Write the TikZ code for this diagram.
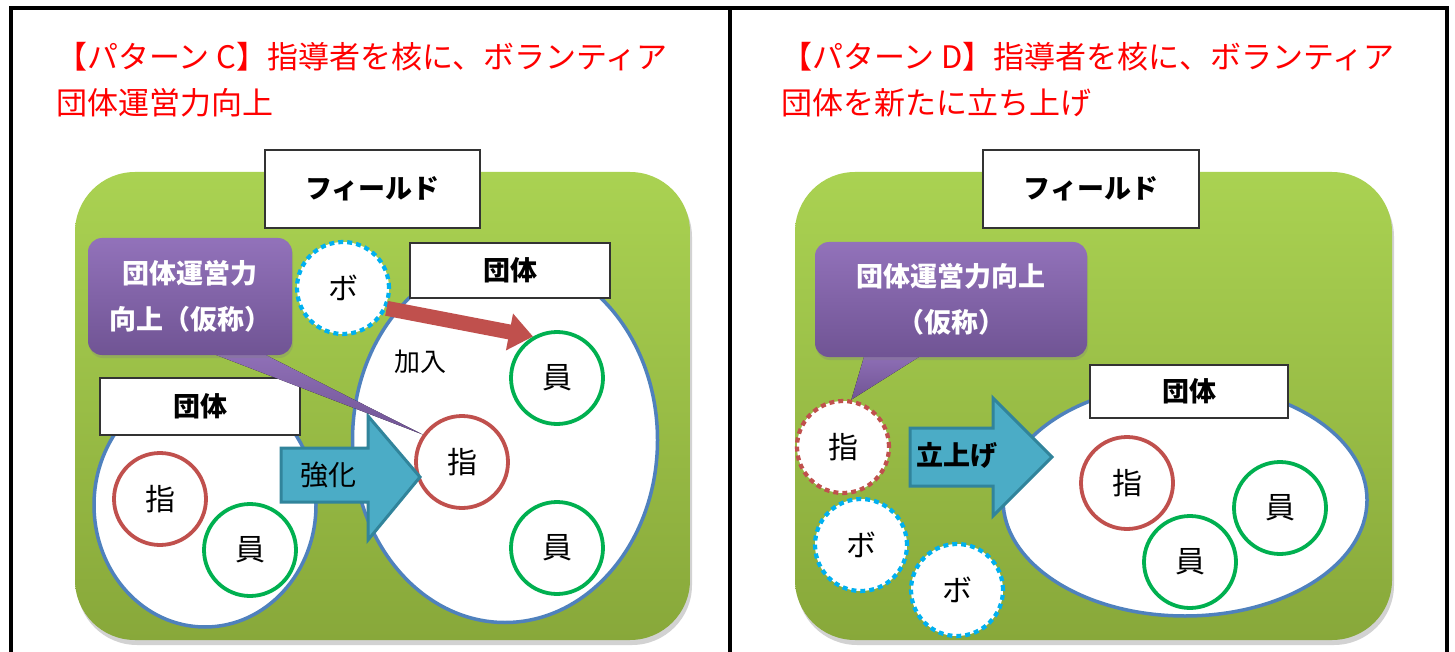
\documentclass[tikz,border=0pt]{standalone}
\usepackage{fontspec}
\newfontfamily\jp{Noto Sans CJK JP}
\usetikzlibrary{shapes.geometric,shadows,arrows.meta}
\definecolor{fieldtop}{RGB}{170,210,82}
\definecolor{fieldbot}{RGB}{136,168,58}
\definecolor{purpl}{RGB}{146,114,186}
\definecolor{purpd}{RGB}{112,84,148}
\definecolor{tealf}{RGB}{75,172,198}
\definecolor{teald}{RGB}{49,132,155}
\definecolor{redc}{RGB}{192,80,77}
\definecolor{grc}{RGB}{0,176,80}
\definecolor{blc}{RGB}{0,176,240}
\definecolor{ellc}{RGB}{79,129,189}
\definecolor{titlered}{RGB}{255,0,0}
\begin{document}
\begin{tikzpicture}[x=1pt,y=-1pt,
  field/.style={rounded corners=60pt, top color=fieldtop, bottom color=fieldbot,
    drop shadow={shadow xshift=2pt, shadow yshift=-5pt, opacity=0.35}},
  lbl/.style={draw=black!80, line width=1.2pt, fill=white, inner sep=0pt,
    font=\jp\bfseries\fontsize{27}{30}\selectfont},
  grp/.style={ellipse, draw=ellc, line width=3.5pt, fill=white, inner sep=0pt},
  person/.style={circle, line width=3.8pt, fill=white, minimum size=92pt, inner sep=0pt,
    font=\jp\fontsize{30}{34}\selectfont},
  shi/.style={person, draw=redc},
  mem/.style={person, draw=grc},
  vol/.style={person, draw=blc, line width=4.2pt, dash pattern=on 5pt off 4pt},
  shidash/.style={person, draw=redc, line width=4.2pt, dash pattern=on 5pt off 4pt},
  cbox/.style={rounded corners=14pt, top color=purpl, bottom color=purpd, inner sep=0pt,
    text=white, align=center, font=\jp\bfseries\fontsize{27}{46}\selectfont,
    drop shadow={shadow xshift=1pt, shadow yshift=-3pt, opacity=0.3}},
  ctail/.style={top color=purpl, bottom color=purpd},
  bigarrow/.style={fill=tealf, draw=teald, line width=3pt},
  arrowtxt/.style={font=\jp\fontsize{28}{32}\selectfont},
  title/.style={anchor=west, text=titlered, inner sep=0pt, font=\jp\fontsize{31}{36}\selectfont},
  redarrow/.style={draw=redc, line width=15pt, -{Triangle[length=24pt,width=36pt]}}
]
\useasboundingbox (0,0) rectangle (1455,652);
\fill[white] (0,0) rectangle (1455,652);

% frame
\draw[line width=4pt] (11,652) -- (11,8) -- (1447,8) -- (1447,652);
\draw[line width=4pt] (730,8) -- (730,652);

% ---------------- Pattern C ----------------
\node[title] (tC1) at (56,57) {【パターン C】指導者を核に、ボランティア};
\node[title] (tC2) at (56,103) {団体運営力向上};

\node[field, minimum width=615pt, minimum height=468pt] (fieldC) at (382.5,406) {};

\node[grp, minimum width=305pt, minimum height=365pt] (gR) at (505,440) {};
\node[grp, minimum width=222pt, minimum height=244pt] (gL) at (205,505) {};

\node[lbl, minimum width=215pt, minimum height=78pt] (fldC) at (372.5,189) {フィールド};
\node[lbl, minimum width=200pt, minimum height=55pt] (lgR) at (510,270.5) {団体};
\node[lbl, minimum width=200pt, minimum height=57pt] (lgL) at (200,406.5) {団体};

\node[vol] (boC) at (343,288) {ボ};
\node[shi] (shiL) at (160,499) {指};
\node[mem] (inL) at (250,550) {員};
\node[shi] (shiR) at (462,462) {指};
\node[mem] (in1) at (557,378) {員};
\node[mem] (in2) at (557,548) {員};

\node[font=\jp\fontsize{26}{30}\selectfont] (kanyu) at (420,362) {加入};

\draw[redarrow] (boC.-25) -- (in1.120);

\draw[bigarrow] (281,448) -- (368,448) -- (368,416) -- (420,477) -- (368,540) -- (368,502) -- (281,502) -- cycle;
\node[arrowtxt] (kyoka) at (328,475) {強化};

\fill[ctail] (198,348) -- (252,348) -- (shiR.145) -- cycle;
\node[cbox, minimum width=204pt, minimum height=117pt] (cbC) at (190,296.5) {団体運営力\\向上（仮称）};

% ---------------- Pattern D ----------------
\node[title] (tD1) at (781,57) {【パターン D】指導者を核に、ボランティア};
\node[title] (tD2) at (781,103) {団体を新たに立ち上げ};

\node[field, minimum width=597pt, minimum height=468pt] (fieldD) at (1093.5,406) {};

\node[grp, minimum width=364pt, minimum height=232pt] (gD) at (1185,500) {};
\node[lbl, minimum width=216pt, minimum height=78pt] (fldD) at (1091,189) {フィールド};
\node[lbl, minimum width=198pt, minimum height=53pt] (lgD) at (1189,391.5) {団体};

\node[shi] (shiD) at (1127,483) {指};
\node[mem] (inD1) at (1280,508) {員};
\node[mem] (inD2) at (1190,562) {員};

\node[shidash] (shiF) at (843,447) {指};
\node[vol] (bo2) at (861,545) {ボ};
\node[vol] (bo3) at (957,590) {ボ};

\draw[bigarrow] (910,428) -- (993,428) -- (993,398) -- (1052,457) -- (993,516) -- (993,486) -- (910,486) -- cycle;
\node[arrowtxt, font=\jp\bfseries\fontsize{27}{30}\selectfont] (tachiage) at (957,455) {立上げ};

\fill[ctail] (866,350) -- (930,350) -- (shiF.80) -- cycle;
\node[cbox, minimum width=272pt, minimum height=115pt] (cbD) at (951,299.5) {団体運営力向上\\（仮称）};
\end{tikzpicture}
\end{document}
